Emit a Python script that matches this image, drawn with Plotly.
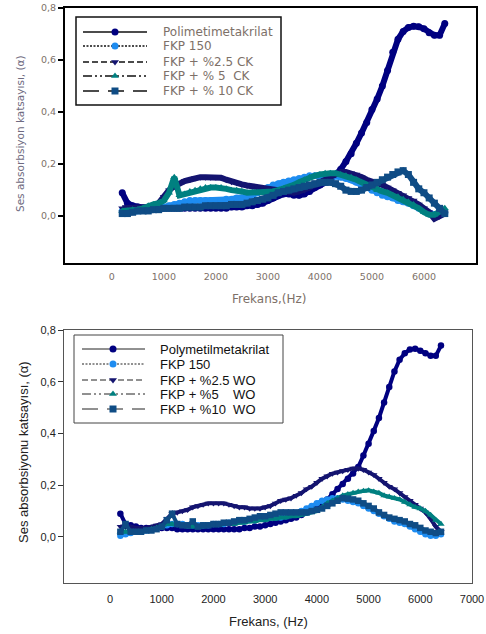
import plotly.graph_objects as go

# ---------------------------------------------------------------- data
freq = [200, 300, 400, 500, 600, 700, 800, 900, 1000,
        1100, 1200, 1300, 1400, 1500, 1600, 1700, 1800, 1900, 2000,
        2100, 2200, 2300, 2400, 2500, 2600, 2700, 2800, 2900, 3000,
        3100, 3200, 3300, 3400, 3500, 3600, 3700, 3800, 3900, 4000,
        4100, 4200, 4300, 4400, 4500, 4600, 4700, 4800, 4900, 5000,
        5100, 5200, 5300, 5400, 5500, 5600, 5700, 5800, 5900, 6000,
        6100, 6200, 6300, 6400]

# upper panel: CK filled samples
pmma_ck = [0.09, 0.05, 0.04, 0.035, 0.03, 0.03, 0.03, 0.03, 0.03,
           0.03, 0.03, 0.03, 0.03, 0.03, 0.03, 0.03, 0.03, 0.03, 0.03,
           0.03, 0.03, 0.035, 0.035, 0.035, 0.04, 0.04, 0.045, 0.05, 0.06,
           0.07, 0.08, 0.085, 0.085, 0.08, 0.08, 0.085, 0.095, 0.11, 0.12,
           0.13, 0.14, 0.16, 0.18, 0.21, 0.24, 0.28, 0.32, 0.36, 0.41,
           0.45, 0.50, 0.56, 0.63, 0.68, 0.71, 0.725, 0.73, 0.728, 0.72,
           0.705, 0.695, 0.695, 0.74]
fkp150_ck = [0.02, 0.02, 0.02, 0.02, 0.025, 0.025, 0.03, 0.03, 0.035,
             0.04, 0.045, 0.05, 0.055, 0.06, 0.06, 0.06, 0.06, 0.06, 0.06,
             0.06, 0.065, 0.065, 0.07, 0.07, 0.075, 0.08, 0.09, 0.10, 0.11,
             0.12, 0.125, 0.13, 0.135, 0.14, 0.145, 0.15, 0.155, 0.155, 0.155,
             0.155, 0.155, 0.155, 0.15, 0.145, 0.14, 0.13, 0.12, 0.11, 0.10,
             0.09, 0.08, 0.075, 0.07, 0.06, 0.055, 0.05, 0.04, 0.03, 0.02,
             0.01, 0.005, 0.01, 0.01]
ck25 = [0.03, 0.03, 0.03, 0.03, 0.03, 0.035, 0.04, 0.05, 0.075,
        0.10, 0.115, 0.128, 0.135, 0.14, 0.147, 0.15, 0.15, 0.15, 0.15,
        0.148, 0.14, 0.132, 0.128, 0.122, 0.118, 0.115, 0.112, 0.108, 0.105,
        0.10, 0.098, 0.095, 0.092, 0.09, 0.095, 0.10, 0.11, 0.12, 0.13,
        0.14, 0.15, 0.16, 0.17, 0.17, 0.165, 0.16, 0.15, 0.14, 0.135,
        0.125, 0.12, 0.11, 0.10, 0.09, 0.08, 0.07, 0.06, 0.045, 0.03,
        0.015, -0.01, 0.0, 0.01]
ck5 = [0.02, 0.02, 0.025, 0.025, 0.03, 0.04, 0.045, 0.05, 0.06,
       0.09, 0.15, 0.08, 0.085, 0.095, 0.10, 0.105, 0.11, 0.11, 0.11,
       0.11, 0.105, 0.10, 0.10, 0.095, 0.09, 0.09, 0.09, 0.09, 0.09,
       0.095, 0.10, 0.105, 0.11, 0.12, 0.13, 0.14, 0.15, 0.155, 0.16,
       0.165, 0.165, 0.165, 0.16, 0.155, 0.15, 0.14, 0.13, 0.12, 0.11,
       0.10, 0.095, 0.09, 0.08, 0.075, 0.065, 0.055, 0.045, 0.03, 0.015,
       0.005, 0.005, 0.015, 0.03]
ck10 = [0.01, 0.01, 0.015, 0.02, 0.02, 0.02, 0.025, 0.025, 0.03,
        0.03, 0.03, 0.03, 0.035, 0.035, 0.035, 0.035, 0.04, 0.04, 0.04,
        0.04, 0.04, 0.045, 0.045, 0.045, 0.05, 0.055, 0.06, 0.065, 0.07,
        0.08, 0.09, 0.095, 0.10, 0.105, 0.11, 0.115, 0.12, 0.125, 0.13,
        0.13, 0.13, 0.125, 0.115, 0.10, 0.095, 0.095, 0.10, 0.11, 0.12,
        0.13, 0.14, 0.15, 0.16, 0.17, 0.175, 0.16, 0.13, 0.105, 0.09,
        0.07, 0.05, 0.03, 0.01]

# lower panel: WO filled samples
pmma_wo = [0.09, 0.05, 0.045, 0.04, 0.035, 0.035, 0.035, 0.035, 0.035,
           0.035, 0.035, 0.03, 0.03, 0.03, 0.03, 0.03, 0.03, 0.03, 0.03,
           0.03, 0.03, 0.03, 0.03, 0.03, 0.035, 0.035, 0.04, 0.04, 0.045,
           0.05, 0.055, 0.06, 0.065, 0.07, 0.075, 0.085, 0.095, 0.105, 0.115,
           0.13, 0.145, 0.165, 0.185, 0.205, 0.225, 0.245, 0.27, 0.315, 0.36,
           0.41, 0.46, 0.52, 0.58, 0.64, 0.685, 0.71, 0.725, 0.728, 0.72,
           0.71, 0.70, 0.70, 0.74]
fkp150_wo = [0.005, 0.01, 0.015, 0.02, 0.02, 0.025, 0.03, 0.035, 0.04,
             0.045, 0.05, 0.05, 0.05, 0.045, 0.045, 0.045, 0.045, 0.045, 0.05,
             0.05, 0.05, 0.055, 0.055, 0.06, 0.06, 0.065, 0.065, 0.07, 0.07,
             0.075, 0.075, 0.075, 0.08, 0.085, 0.09, 0.10, 0.11, 0.12, 0.13,
             0.14, 0.145, 0.15, 0.15, 0.145, 0.14, 0.135, 0.13, 0.12, 0.11,
             0.10, 0.09, 0.08, 0.07, 0.06, 0.055, 0.05, 0.04, 0.03, 0.02,
             0.01, 0.005, 0.005, 0.01]
wo25 = [0.04, 0.04, 0.04, 0.035, 0.035, 0.035, 0.04, 0.045, 0.05,
        0.07, 0.09, 0.095, 0.10, 0.105, 0.115, 0.12, 0.125, 0.13, 0.13,
        0.13, 0.13, 0.125, 0.12, 0.115, 0.115, 0.11, 0.11, 0.11, 0.115,
        0.12, 0.13, 0.14, 0.145, 0.15, 0.16, 0.17, 0.185, 0.195, 0.21,
        0.225, 0.235, 0.245, 0.25, 0.255, 0.26, 0.265, 0.265, 0.26, 0.25,
        0.24, 0.225, 0.21, 0.195, 0.185, 0.17, 0.155, 0.14, 0.125, 0.11,
        0.095, 0.07, 0.04, 0.02]
wo5 = [0.02, 0.02, 0.02, 0.02, 0.02, 0.025, 0.03, 0.035, 0.04,
       0.05, 0.05, 0.045, 0.045, 0.04, 0.04, 0.04, 0.04, 0.045, 0.045,
       0.045, 0.05, 0.05, 0.05, 0.055, 0.055, 0.06, 0.06, 0.065, 0.065,
       0.07, 0.07, 0.075, 0.075, 0.08, 0.08, 0.085, 0.09, 0.095, 0.10,
       0.115, 0.13, 0.14, 0.15, 0.16, 0.165, 0.17, 0.175, 0.178, 0.18,
       0.175, 0.17, 0.16, 0.155, 0.15, 0.145, 0.135, 0.125, 0.115, 0.11,
       0.10, 0.085, 0.065, 0.05]
wo10 = [0.02, 0.05, 0.02, 0.02, 0.02, 0.025, 0.025, 0.03, 0.04,
        0.065, 0.09, 0.05, 0.045, 0.045, 0.06, 0.04, 0.045, 0.045, 0.05,
        0.05, 0.055, 0.055, 0.06, 0.065, 0.065, 0.07, 0.075, 0.08, 0.08,
        0.085, 0.09, 0.095, 0.095, 0.095, 0.095, 0.095, 0.095, 0.10, 0.105,
        0.11, 0.12, 0.13, 0.14, 0.15, 0.148, 0.145, 0.14, 0.13, 0.12,
        0.11, 0.095, 0.085, 0.075, 0.07, 0.065, 0.06, 0.05, 0.045, 0.035,
        0.025, 0.02, 0.015, 0.02]

top_names = ["Polimetimetakrilat", "FKP 150", "FKP + %2.5 CK",
             "FKP + % 5\u00a0\u00a0CK", "FKP + % 10 CK"]
bottom_names = ["Polymetilmetakrilat", "FKP 150", "FKP + %2.5 WO",
                "FKP + %5\u00a0\u00a0\u00a0\u00a0WO", "FKP + %10\u00a0\u00a0WO"]

x_ticks = [0, 1000, 2000, 3000, 4000, 5000, 6000, 7000]
x_ticktext = ["0", "1000", "2000", "3000", "4000", "5000", "6000", "7000"]
y_ticks = [0.0, 0.2, 0.4, 0.6, 0.8]
y_ticktext = ["0,0", "0,2", "0,4", "0,6", "0,8"]

# ---------------------------------------------------------------- styles
W, H = 486, 634
colors = ["#000080", "#1E8CF0", "#141470", "#008080", "#0F4C85"]
symbols = ["circle", "circle", "triangle-down", "triangle-up", "square"]
dashes = ["solid", "2px,1.5px", "6px,3px", "9px,3px,2px,3px,2px,3px", "16px,9px"]
top_txt = "#7d7068"
FONT_B = "Liberation Sans, Arial, sans-serif"
FONT_T = "DejaVu Sans, sans-serif"


def px(x):
    return x / W


def py(y):
    return 1 - y / H


fig = go.Figure()

top_series = [pmma_ck, fkp150_ck, ck25, ck5, ck10]
bot_series = [pmma_wo, fkp150_wo, wo25, wo5, wo10]

for vals, c, s in zip(top_series, colors, symbols):
    fig.add_trace(go.Scatter(x=freq, y=vals, xaxis="x", yaxis="y",
                             mode="lines+markers",
                             line=dict(color=c, width=6),
                             marker=dict(symbol=s, size=7, color=c),
                             showlegend=False, hoverinfo="skip"))

for vals, c, s in zip(bot_series, colors, symbols):
    fig.add_trace(go.Scatter(x=freq, y=vals, xaxis="x2", yaxis="y2",
                             mode="lines+markers",
                             line=dict(color=c, width=4),
                             marker=dict(symbol=s, size=6.5, color=c),
                             showlegend=False, hoverinfo="skip"))

# ---------------------------------------------------------------- legend boxes
shapes = []
annotations = []


def legend_box(x0, y0, x1, y1, rows, lx0, lx1, mx, tx, names,
               lcolor, lwidth, font, fsize, fcolor, msize, bwidth, bcolor):
    shapes.append(dict(type="rect", xref="paper", yref="paper",
                       x0=px(x0), x1=px(x1), y0=py(y0), y1=py(y1),
                       line=dict(color=bcolor, width=bwidth),
                       fillcolor="white", layer="below"))
    for i, ry in enumerate(rows):
        shapes.append(dict(type="line", xref="paper", yref="paper",
                           x0=px(lx0), x1=px(lx1), y0=py(ry), y1=py(ry),
                           line=dict(color=lcolor, width=lwidth, dash=dashes[i]),
                           layer="below"))
        fig.add_trace(go.Scatter(x=[mx], y=[ry], xaxis="x3", yaxis="y3",
                                 mode="markers",
                                 marker=dict(symbol=symbols[i], size=msize,
                                             color=colors[i]),
                                 showlegend=False, hoverinfo="skip"))
        annotations.append(dict(xref="paper", yref="paper",
                                x=px(tx), y=py(ry), xanchor="left",
                                yanchor="middle", showarrow=False,
                                text=names[i],
                                font=dict(family=font, size=fsize, color=fcolor)))


legend_box(76, 17, 281, 105, [32, 46, 62, 76, 91], 83, 147, 115, 161,
           top_names, "#111111", 1.5, FONT_T, 12, top_txt, 7, 1.5, "#111111")
legend_box(74, 335, 283, 423, [349, 364, 380, 394, 409], 82, 145, 113, 158,
           bottom_names, "#222222", 1, FONT_B, 13, "#111111", 7, 1, "#444444")

# ---------------------------------------------------------------- axis titles
annotations += [
    dict(xref="paper", yref="paper", x=px(269), y=py(299), showarrow=False,
         text="Frekans,(Hz)", xanchor="center", yanchor="middle",
         font=dict(family=FONT_T, size=12, color=top_txt)),
    dict(xref="paper", yref="paper", x=px(20), y=py(134), showarrow=False,
         text="Ses absorbsiyon katsayısı, (α)", textangle=-90,
         xanchor="center", yanchor="middle",
         font=dict(family=FONT_T, size=10.5, color="#6e6a80")),
    dict(xref="paper", yref="paper", x=px(268), y=py(621), showarrow=False,
         text="Frekans, (Hz)", xanchor="center", yanchor="middle",
         font=dict(family=FONT_B, size=13, color="#222222")),
    dict(xref="paper", yref="paper", x=px(23), y=py(452), showarrow=False,
         text="Ses absorbsiyonu katsayısı, (α)", textangle=-90,
         xanchor="center", yanchor="middle",
         font=dict(family=FONT_B, size=13, color="#222222")),
]

common = dict(showgrid=False, zeroline=False, showline=True, mirror=True,
              automargin=False)

fig.update_layout(
    width=W, height=H,
    margin=dict(l=0, r=0, t=0, b=0, autoexpand=False),
    paper_bgcolor="white",
    plot_bgcolor="rgba(0,0,0,0)",
    showlegend=False,
    shapes=shapes,
    annotations=annotations,
    xaxis=dict(domain=[px(65), px(476)], range=[-900, 7000], anchor="y",
               tickvals=x_ticks, ticktext=x_ticktext, ticks="",
               linecolor="#000000", linewidth=2, ticklabelstandoff=4,
               tickfont=dict(family=FONT_T, size=9.5, color=top_txt), **common),
    yaxis=dict(domain=[py(263), py(8)], range=[-0.18, 0.8], anchor="x",
               tickvals=y_ticks, ticktext=y_ticktext, ticks="outside",
               ticklen=5, tickwidth=1.5, tickcolor="#000000",
               linecolor="#000000", linewidth=2,
               tickfont=dict(family=FONT_T, size=9.5, color=top_txt), **common),
    xaxis2=dict(domain=[px(64), px(472)], range=[-890, 7000], anchor="y2",
                tickvals=x_ticks, ticktext=x_ticktext, ticks="",
                linecolor="#555555", linewidth=1, ticklabelstandoff=6,
                tickfont=dict(family=FONT_B, size=11, color="#222222"), **common),
    yaxis2=dict(domain=[py(583), py(330)], range=[-0.178, 0.8], anchor="x2",
                tickvals=y_ticks, ticktext=y_ticktext, ticks="outside",
                ticklen=5, tickwidth=1, tickcolor="#333333",
                linecolor="#555555", linewidth=1,
                tickfont=dict(family=FONT_B, size=11, color="#222222"), **common),
    xaxis3=dict(domain=[0, 1], range=[0, W], anchor="y3", visible=False,
                fixedrange=True, automargin=False),
    yaxis3=dict(domain=[0, 1], range=[H, 0], anchor="x3", visible=False,
                fixedrange=True, automargin=False),
)

fig.write_html("out.html")
